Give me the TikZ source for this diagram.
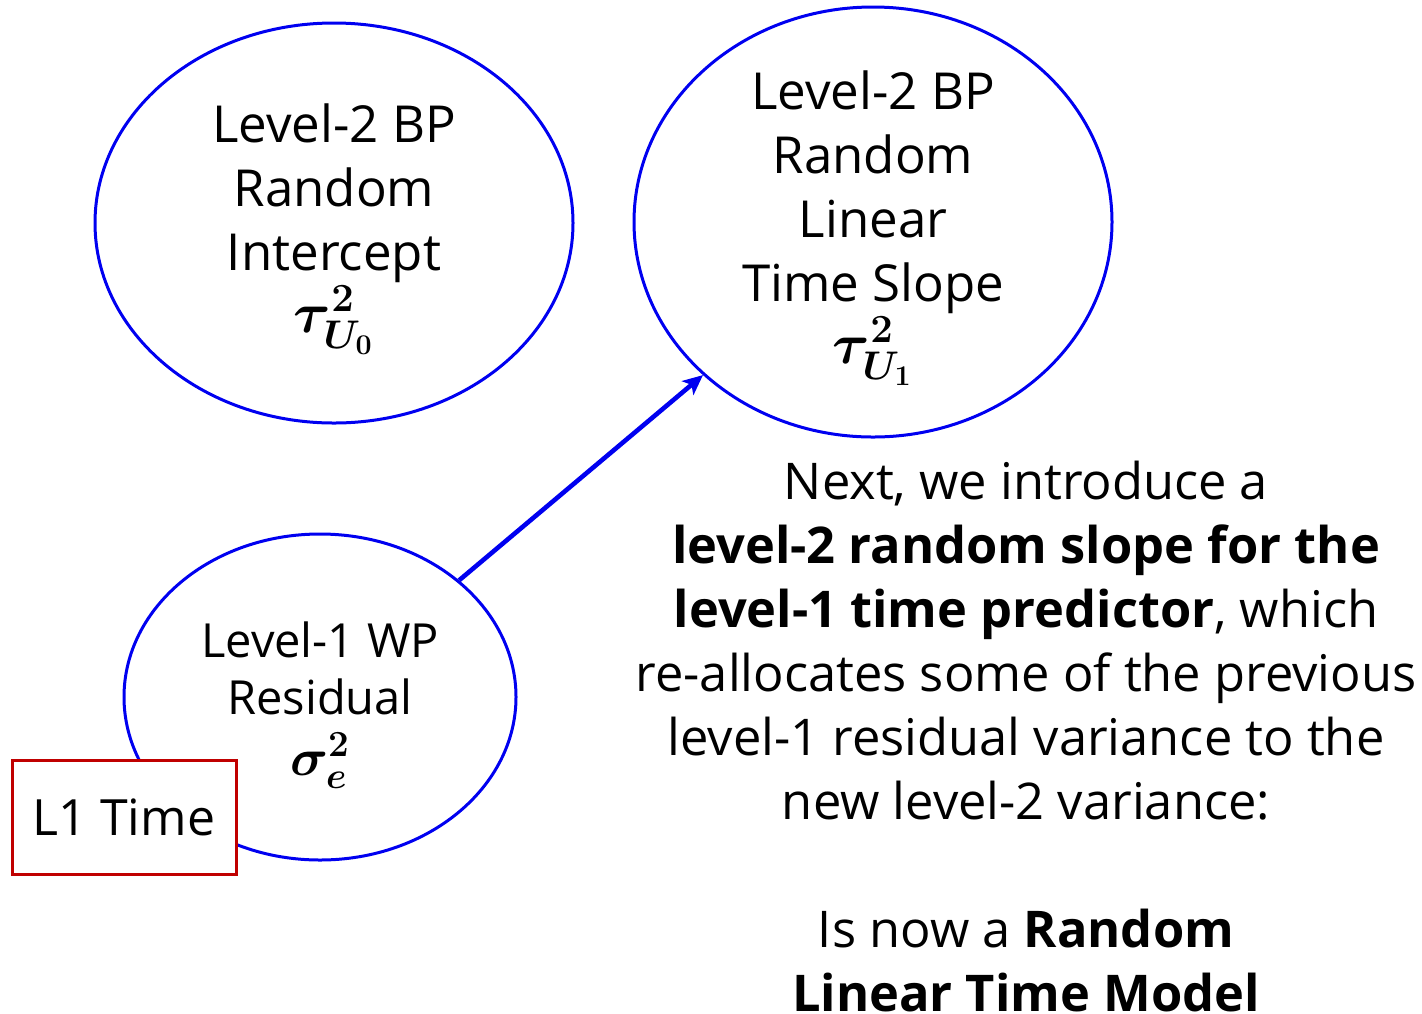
\RequirePackage{fix-cm}
\documentclass[tikz,border=0pt]{standalone}
\usepackage{amsmath,bm,graphicx}
\usepackage{fontspec}
\setmainfont{Open Sans}
\usetikzlibrary{shapes.geometric,arrows.meta}
\definecolor{ellblue}{RGB}{0,0,240}
\definecolor{boxred}{RGB}{192,0,0}
\newcommand{\bigmath}[1]{\scalebox{1.12}{$\bm{#1}$}}
\tikzset{
  ell/.style={ellipse,draw=ellblue,line width=1.5pt,inner sep=0pt},
  lbl/.style={align=center,inner sep=0pt,font=\fontsize{25.5}{32}\selectfont},
  txt/.style={align=center,inner sep=0pt,font=\fontsize{25.3}{32}\selectfont},
  redbox/.style={rectangle,draw=boxred,line width=1.5pt,fill=white,inner sep=0pt,
    font=\fontsize{25}{32}\selectfont},
  conn/.style={draw=ellblue,line width=2.3pt,-{Stealth[length=10pt,width=9pt,inset=2.5pt]}}
}
\begin{document}
\begin{tikzpicture}[x=0.5pt,y=-0.5pt]
\useasboundingbox (0,0) rectangle (1422,1013);
\node[ell,minimum width=239pt,minimum height=200pt] (ri) at (334,223) {};
\node[lbl] (riT) at (334,229)
  {Level-2 BP\\Random\\Intercept\\[-1pt]\bigmath{\tau^{2}_{U_{0}}}};
\node[ell,minimum width=239pt,minimum height=215pt] (rs) at (873,222) {};
\node[lbl] (rsT) at (873,228)
  {Level-2 BP\\Random\\Linear\\Time Slope\\[-1pt]\bigmath{\tau^{2}_{U_{1}}}};
\node[ell,minimum width=196pt,minimum height=163pt] (wp) at (320,697) {};
\node[lbl,font=\fontsize{23.5}{28.5}\selectfont] (wpT) at (320,705)
  {Level-1 WP\\Residual\\[2pt]\bigmath{\sigma^{2}_{e}}};
\node[redbox,minimum width=112pt,minimum height=57pt] (t1) at (124,817) {L1 Time};
\draw[conn] (wp.40) -- (rs.222);
\node[txt] (desc) at (1026,737)
  {Next, we introduce a\\
   \textbf{level-2 random slope for the}\\
   \textbf{level-1 time predictor}, which\\
   re-allocates some of the previous\\
   level-1 residual variance to the\\
   new level-2 variance:\\
   ~\\
   Is now a \textbf{Random}\\
   \textbf{Linear Time Model}};
\end{tikzpicture}
\end{document}
